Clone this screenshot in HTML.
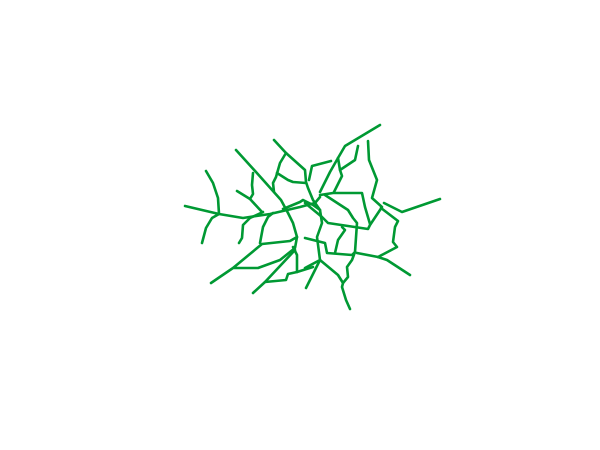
<!DOCTYPE html>
<html><head><meta charset="utf-8"><style>
html,body{margin:0;padding:0;background:#fff;width:600px;height:450px;overflow:hidden}
svg{display:block}
</style></head><body>
<svg width="600" height="450">
<g id="roads" fill="none" stroke="#009933" stroke-width="2.6" stroke-linejoin="round" stroke-linecap="round"></g>
</svg>
<script>
const roadWest = [[185,206],[219,214],[243,218],[270,214],[300,207],[315,203],[320,197]];
const roadWestBranch = [[206,171],[213,183],[218,198],[219,214],[212,218],[206,228],[202,243]];
const roadDiag = [[236,150],[256,172],[281,200],[288,213],[293,223],[297,237]];
const roadBranchA = [[253,173],[252,185],[253,194],[250,199],[237,191]];
const roadBranchA2 = [[250,199],[262,212]];
const roadTop = [[274,140],[286,153],[305,170],[306,182],[308,188],[313,200],[320,210],[322,223],[317,237],[320,260],[305,268]];
const roadTopB = [[286,153],[280,163],[276,177],[273,183],[274,192]];
const roadTopC = [[277,173],[288,180],[293,182],[306,183]];
const roadMid = [[283,209],[300,202],[303,200],[313,205],[320,210]];
const roadNE = [[380,125],[345,146],[338,158],[330,172],[320,192]];
const roadNE2 = [[358,146],[355,160],[340,170],[342,176],[334,192]];
const roadNE3 = [[338,158],[340,170]];
const roadE = [[368,141],[369,160],[377,180],[372,198],[382,207],[370,225],[368,229],[328,223],[322,217],[305,203]];
const roadN = [[331,161],[312,166],[309,180]];
const roadH = [[320,195],[333,193],[362,193],[365,207],[370,224]];
const roadEast = [[440,199],[402,212],[384,203]];
const roadEast2 = [[381,208],[398,221],[395,227],[393,242],[397,247],[378,257]];
const roadV2 = [[325,195],[348,210],[353,218],[357,223],[355,252],[352,255],[327,253],[325,243],[305,238]];
const roadV3 = [[342,227],[345,230],[338,240],[335,253]];
const roadS = [[355,252],[352,260],[347,267],[348,277],[343,283],[342,287],[346,300],[350,309]];
const roadS2 = [[320,260],[338,275],[343,283]];
const roadSE = [[357,253],[378,257],[387,260],[410,275]];
const roadSW = [[211,283],[233,268],[262,244],[290,241],[297,237],[295,248],[280,260],[258,268],[233,268]];
const roadSW2 = [[239,243],[242,238],[243,225],[250,218],[263,212]];
const roadSW3 = [[260,243],[263,227],[268,217],[273,213]];
const roadSW4 = [[253,293],[265,282],[286,280],[288,274],[297,272],[313,267]];
const roadSW5 = [[265,282],[295,250]];
const roadSW6 = [[297,272],[297,255],[293,247]];
const roadSW7 = [[306,288],[315,270],[320,260]];
const polylines = [roadWest,roadWestBranch,roadDiag,roadBranchA,roadBranchA2,roadTop,roadTopB,roadTopC,roadMid,roadNE,roadNE2,roadNE3,roadE,roadN,roadH,roadEast,roadEast2,roadV2,roadV3,roadS,roadS2,roadSE,roadSW,roadSW2,roadSW3,roadSW4,roadSW5,roadSW6,roadSW7];
const g = document.getElementById('roads');
polylines.forEach((pts,i)=>{
  const p = document.createElementNS('http://www.w3.org/2000/svg','polyline');
  p.setAttribute('points', pts.map(q=>q.join(',')).join(' '));
  
  
  g.appendChild(p);
});
</script>
</body></html>
